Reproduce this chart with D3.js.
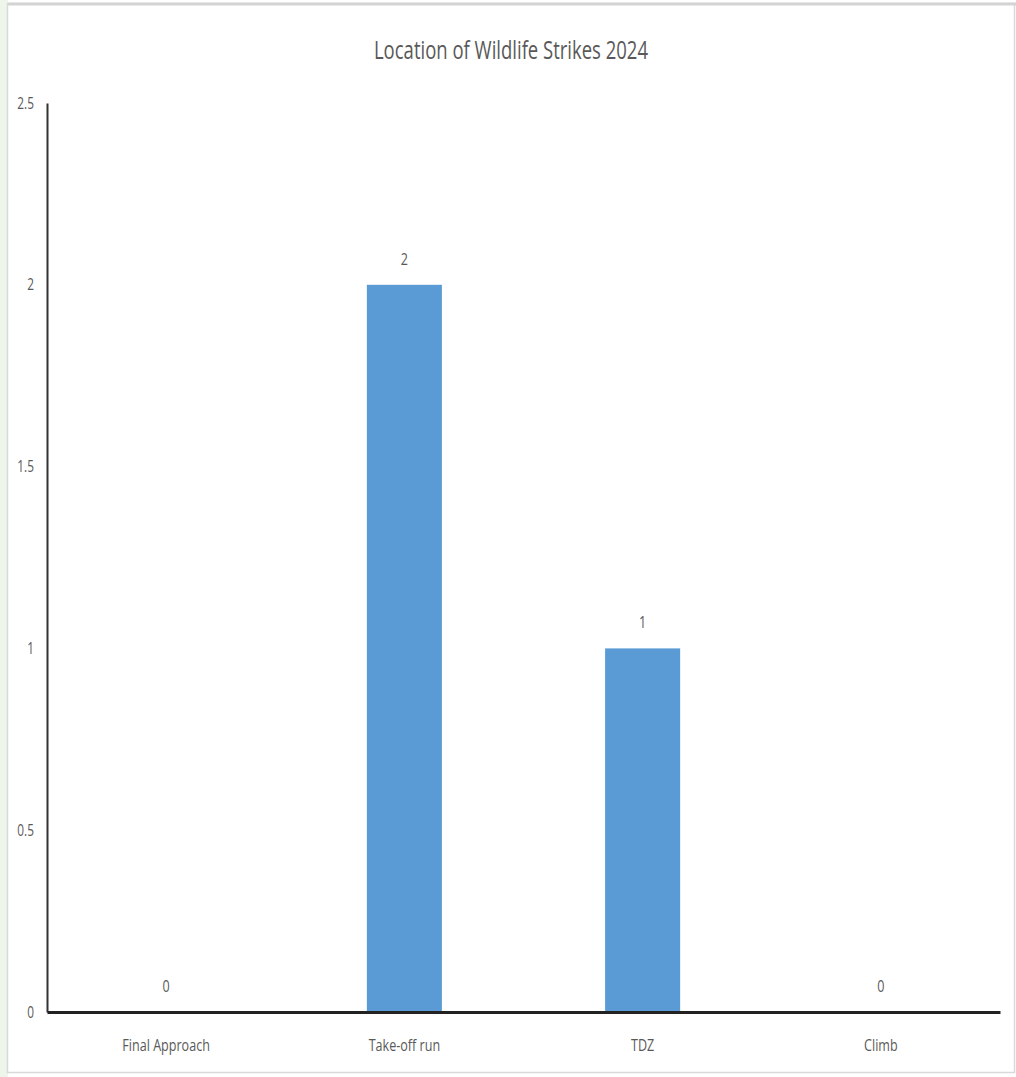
<!DOCTYPE html>
<html><head><meta charset="utf-8">
<script src="https://cdn.jsdelivr.net/npm/d3@7"></script>
<style>body{margin:0;background:#fff;} text{font-family:"Open Sans","Noto Sans",sans-serif;fill:#595959;}</style>
</head><body>
<script>
const categories = ["Final Approach", "Take-off run", "TDZ", "Climb"];
const values = [0, 2, 1, 0];
const yTicks = [0, 0.5, 1, 1.5, 2, 2.5];
const title = "Location of Wildlife Strikes 2024";

(function(){
const W = 1016, H = 1077;
const svg = d3.select("body").append("svg").attr("width", W).attr("height", H);
svg.append("rect").attr("x",0).attr("y",0).attr("width",8).attr("height",H).attr("fill","#eef5ea");
svg.append("rect").attr("x",7.5).attr("y",3.5).attr("width",1007).attr("height",1069)
  .attr("fill","#fff").attr("stroke","#d9d9d9").attr("stroke-width",1.5);
svg.append("line").attr("x1",8).attr("x2",1016).attr("y1",4).attr("y2",4).attr("stroke","#d4d4d4").attr("stroke-width",3);

const mLeft = 47, mRight = 1000, mTop = 103, mBottom = 1012;
const x = d3.scaleBand().domain(categories).range([mLeft, mRight]).paddingInner(0.685).paddingOuter(0.3425);
const y = d3.scaleLinear().domain([0, 2.5]).range([mBottom, mTop]);
const sx = 0.74;

function cText(g, px, py, str, size, anchor) {
  return g.append("g").attr("transform", `translate(${px},${py}) scale(${sx},1)`)
    .append("text").attr("text-anchor", anchor || "middle").attr("font-size", size).text(str);
}

cText(svg, 511, 59, title, 25);

svg.selectAll("rect.bar").data(categories).enter().append("rect").attr("class","bar")
  .attr("x", d => x(d)).attr("width", x.bandwidth())
  .attr("y", (d,i) => y(values[i])).attr("height", (d,i) => y(0) - y(values[i]))
  .attr("fill", "#5b9bd5");

categories.forEach((c, i) => cText(svg, x(c) + x.bandwidth()/2, y(values[i]) - 20, String(values[i]), 17));

const yAxis = svg.append("g").attr("transform", `translate(${mLeft},0)`)
  .call(d3.axisLeft(y).tickValues(yTicks).tickSize(0).tickFormat(d3.format("")));
yAxis.select(".domain").attr("stroke","#333").attr("stroke-width",2);
yAxis.selectAll(".tick text")
  .attr("x", 0).attr("dy", "0.32em").attr("font-size", 16).attr("fill","#595959")
  .attr("font-family", '"Open Sans","Noto Sans",sans-serif')
  .attr("text-anchor","end").attr("transform", `translate(-13,0) scale(${sx},1)`);

const xAxis = svg.append("g").attr("transform", `translate(0,${mBottom})`)
  .call(d3.axisBottom(x).tickSize(0));
xAxis.select(".domain").attr("stroke","#222").attr("stroke-width",3);
xAxis.selectAll(".tick text").attr("y", 0).attr("dy", 0)
  .attr("font-size", 17).attr("fill","#595959")
  .attr("font-family", '"Open Sans","Noto Sans",sans-serif')
  .attr("transform", `translate(0,39) scale(${sx},1)`);
})();
</script>
</body></html>
